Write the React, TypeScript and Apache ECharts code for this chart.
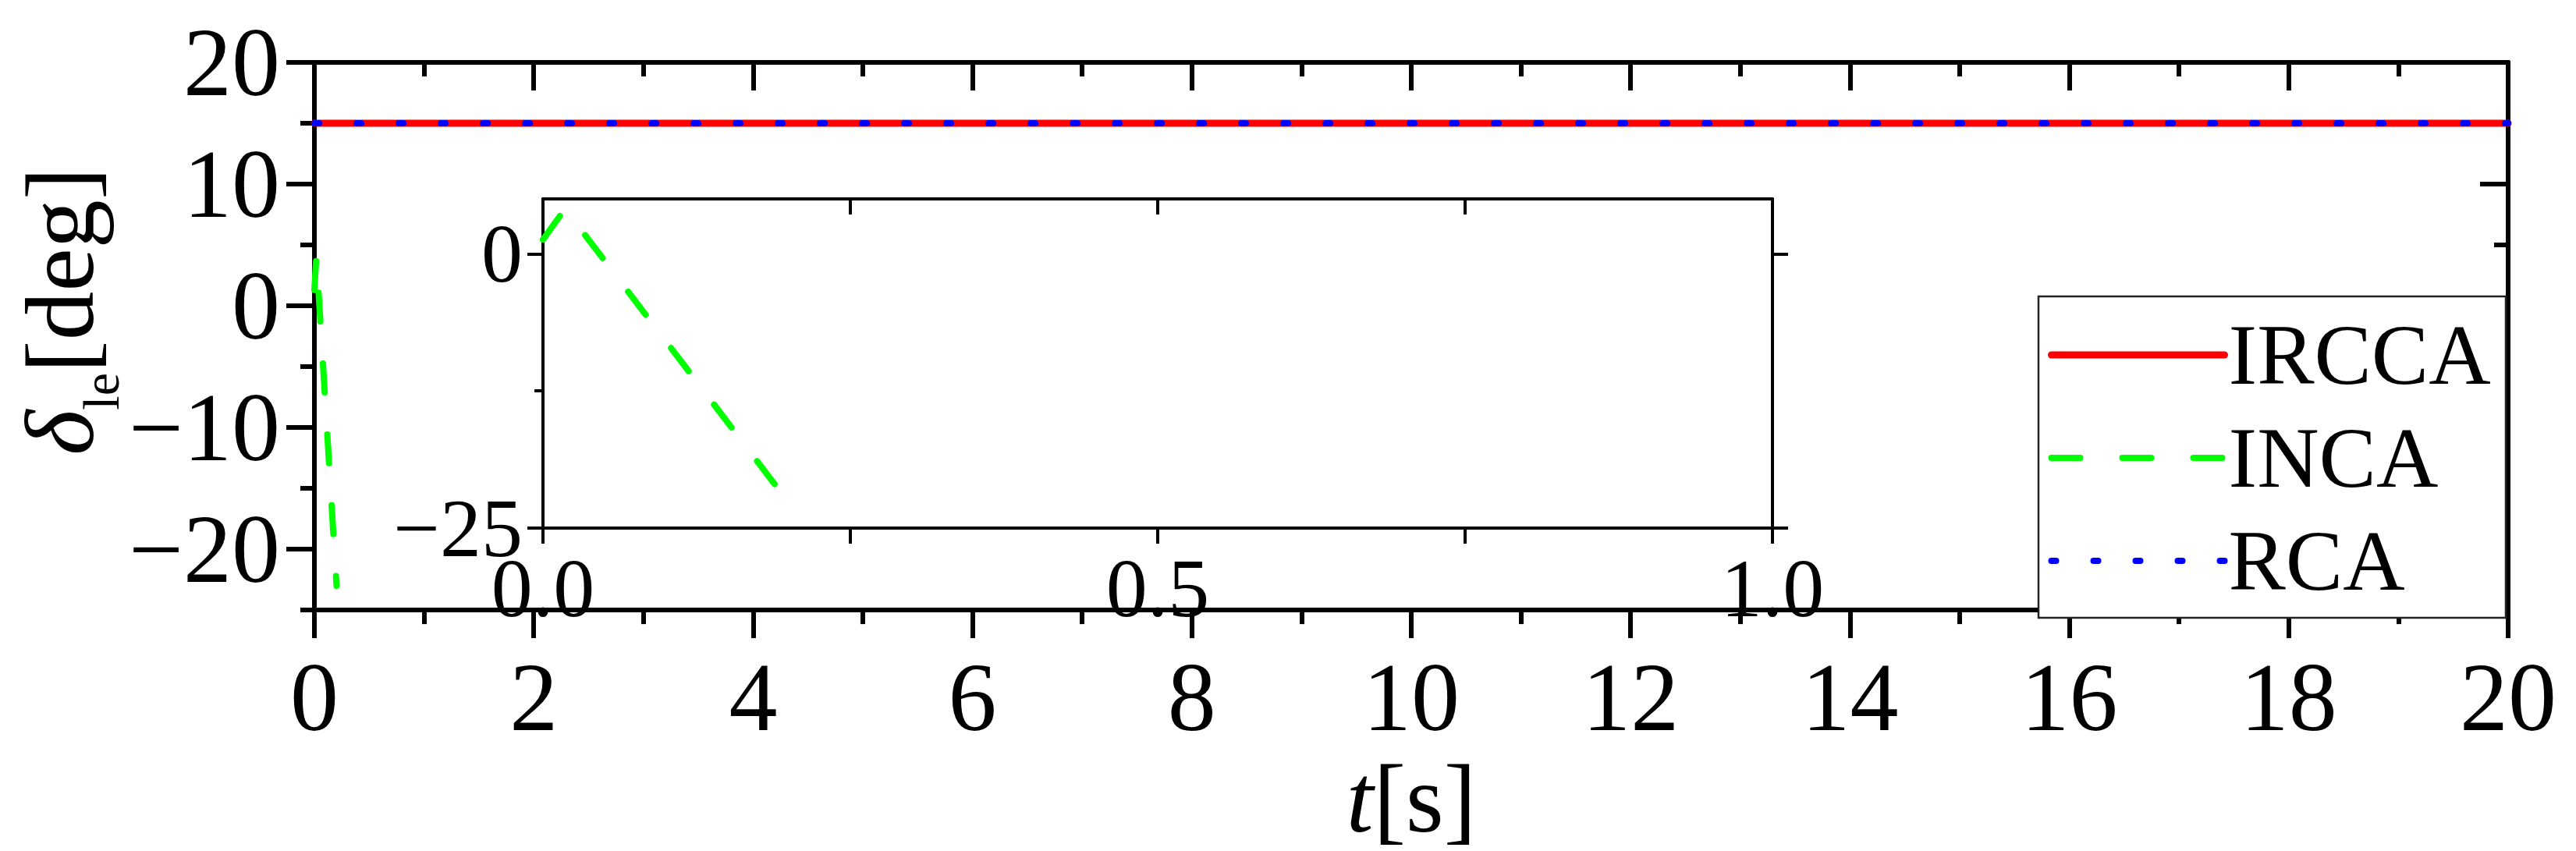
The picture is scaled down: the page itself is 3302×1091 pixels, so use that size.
import React, { useEffect, useRef } from 'react';
import * as echarts from 'echarts';

// ---- data ----
const seriesNames = ['IRCCA', 'INCA', 'RCA'];
const irccaData: number[][] = [[0, 15], [20, 15]];
const rcaData: number[][] = [[0, 15], [20, 15]];
const incaData: number[][] = [[0, 1.3], [0.018, 4.1], [0.202, -23.0]];

const mainYMajorTicks = [-20, -10, 0, 10, 20];
const mainYMinorTicks = [-25, -15, -5, 5, 15];
const insetYMajorTicks = [-25, 0];
const insetYMinorTicks = [-12.5];
const insetXLabelTicks = [0, 0.5, 1];

const FONT = '"Liberation Serif", "Times New Roman", serif';
const BLACK = '#000000';

const fmtMinus = (v: number) => (v < 0 ? '\u2212' + String(-v) : String(v));

export default function App() {
  const ref = useRef<HTMLDivElement>(null);

  useEffect(() => {
    if (!ref.current) return;
    const chart = echarts.init(ref.current, null, { renderer: 'svg' });

    const axisLine = { show: true, onZero: false, lineStyle: { color: BLACK, width: 6 } };
    const insetAxisLine = { show: true, onZero: false, lineStyle: { color: BLACK, width: 4 } };

    const option: any = {
      animation: false,
      backgroundColor: '#ffffff',
      grid: [
        { left: 403, top: 80, width: 2812, height: 716, show: false },
        { left: 696, top: 255, width: 1576, height: 422, show: false },
      ],
      xAxis: [
        {
          type: 'value', gridIndex: 0, position: 'bottom', min: 0, max: 20, interval: 2,
          axisLine,
          axisTick: { show: true, length: 36, lineStyle: { color: BLACK, width: 6 } },
          minorTick: { show: true, splitNumber: 2, length: 18, lineStyle: { color: BLACK, width: 6 } },
          axisLabel: { color: BLACK, fontSize: 124, fontFamily: FONT, margin: 50 },
          splitLine: { show: false },
          name: '{i|t}{n|[s]}',
          nameLocation: 'middle',
          nameGap: 146,
          nameTextStyle: {
            color: BLACK,
            rich: {
              i: { fontSize: 125, fontFamily: FONT, fontStyle: 'italic', color: BLACK },
              n: { fontSize: 125, fontFamily: FONT, color: BLACK },
            },
          },
        },
        {
          type: 'value', gridIndex: 0, position: 'top', min: 0, max: 20, interval: 2,
          axisLine,
          axisTick: { show: true, inside: true, length: 36, lineStyle: { color: BLACK, width: 6 } },
          minorTick: { show: true, splitNumber: 2, length: 18, lineStyle: { color: BLACK, width: 6 } },
          axisLabel: { show: false },
          splitLine: { show: false },
        },
        {
          type: 'value', gridIndex: 1, position: 'bottom', min: 0, max: 1, interval: 0.25,
          axisLine: insetAxisLine,
          axisTick: { show: true, length: 20, lineStyle: { color: BLACK, width: 4 } },
          axisLabel: {
            color: BLACK, fontSize: 106, lineHeight: 74, fontFamily: FONT, margin: 40,
            formatter: (v: number) => (insetXLabelTicks.some((t) => Math.abs(t - v) < 1e-9) ? v.toFixed(1) : ''),
          },
          splitLine: { show: false },
        },
        {
          type: 'value', gridIndex: 1, position: 'top', min: 0, max: 1, interval: 0.25,
          axisLine: insetAxisLine,
          axisTick: { show: true, inside: true, length: 20, lineStyle: { color: BLACK, width: 4 } },
          axisLabel: { show: false },
          splitLine: { show: false },
        },
      ],
      yAxis: [
        {
          type: 'value', gridIndex: 0, position: 'left', min: -25, max: 20,
          axisLine,
          axisTick: { show: true, length: 36, customValues: mainYMajorTicks, lineStyle: { color: BLACK, width: 6 } },
          axisLabel: { color: BLACK, fontSize: 124, fontFamily: FONT, margin: 44, customValues: mainYMajorTicks, formatter: fmtMinus },
          splitLine: { show: false },
        },
        {
          type: 'value', gridIndex: 0, position: 'left', min: -25, max: 20,
          axisLine,
          axisTick: { show: true, length: 18, customValues: mainYMinorTicks, lineStyle: { color: BLACK, width: 6 } },
          axisLabel: { show: false },
          splitLine: { show: false },
        },
        {
          type: 'value', gridIndex: 0, position: 'right', min: -25, max: 20,
          axisLine,
          axisTick: { show: true, inside: true, length: 36, customValues: mainYMajorTicks, lineStyle: { color: BLACK, width: 6 } },
          axisLabel: { show: false },
          splitLine: { show: false },
        },
        {
          type: 'value', gridIndex: 0, position: 'right', min: -25, max: 20,
          axisLine,
          axisTick: { show: true, inside: true, length: 18, customValues: mainYMinorTicks, lineStyle: { color: BLACK, width: 6 } },
          axisLabel: { show: false },
          splitLine: { show: false },
        },
        {
          type: 'value', gridIndex: 1, position: 'left', min: -25, max: 5,
          axisLine: insetAxisLine,
          axisTick: { show: true, length: 20, customValues: insetYMajorTicks, lineStyle: { color: BLACK, width: 4 } },
          axisLabel: { color: BLACK, fontSize: 106, lineHeight: 74, fontFamily: FONT, margin: 26, customValues: insetYMajorTicks, formatter: fmtMinus },
          splitLine: { show: false },
        },
        {
          type: 'value', gridIndex: 1, position: 'left', min: -25, max: 5,
          axisLine: insetAxisLine,
          axisTick: { show: true, length: 11, customValues: insetYMinorTicks, lineStyle: { color: BLACK, width: 4 } },
          axisLabel: { show: false },
          splitLine: { show: false },
        },
        {
          type: 'value', gridIndex: 1, position: 'right', min: -25, max: 5,
          axisLine: insetAxisLine,
          axisTick: { show: true, length: 20, customValues: insetYMajorTicks, lineStyle: { color: BLACK, width: 4 } },
          axisLabel: { show: false },
          splitLine: { show: false },
        },
      ],
      legend: {
        data: seriesNames,
        orient: 'vertical',
        left: 2625,
        top: 400,
        padding: 0,
        itemWidth: 222,
        itemHeight: 20,
        itemGap: 22,
        itemTextGap: 24,
        selectedMode: false,
        z: 10,
        itemStyle: { color: 'rgba(0,0,0,0)', borderColor: 'rgba(0,0,0,0)', borderWidth: 0 },
        lineStyle: { width: 'inherit' },
        textStyle: { color: BLACK, fontSize: 110, lineHeight: 110, fontFamily: FONT },
      },
      graphic: [
        {
          type: 'rect',
          z: 5,
          shape: { x: 2613, y: 380, width: 599, height: 412 },
          style: { fill: '#ffffff', stroke: '#222222', lineWidth: 2.5 },
        },
        {
          type: 'text',
          x: 77,
          y: 399,
          rotation: Math.PI / 2,
          style: {
            text: '{d|\u03b4}{s|le}{n|[deg]}',
            align: 'center',
            verticalAlign: 'middle',
            fill: BLACK,
            rich: {
              d: { fontSize: 125, lineHeight: 170, fontFamily: FONT, fontStyle: 'italic', fill: BLACK },
              s: { fontSize: 66, lineHeight: 66, fontFamily: FONT, verticalAlign: 'bottom', fill: BLACK },
              n: { fontSize: 125, lineHeight: 170, fontFamily: FONT, fill: BLACK },
            },
          },
        },
      ],
      series: [
        {
          name: 'IRCCA', type: 'line', xAxisIndex: 0, yAxisIndex: 0, data: irccaData,
          symbol: 'none', z: 2, color: '#ff0000',
          lineStyle: { color: '#ff0000', width: 9, type: 'solid', cap: 'round' },
        },
        {
          name: 'INCA', type: 'line', xAxisIndex: 0, yAxisIndex: 0, data: incaData,
          symbol: 'none', z: 3, color: '#00ff00',
          lineStyle: { color: '#00ff00', width: 8, type: [37, 54], cap: 'round' },
        },
        {
          name: 'RCA', type: 'line', xAxisIndex: 0, yAxisIndex: 0, data: rcaData,
          symbol: 'none', z: 4, color: '#0000ff',
          lineStyle: { color: '#0000ff', width: 8, type: [6, 48], cap: 'round' },
        },
        {
          name: 'INCA', type: 'line', xAxisIndex: 2, yAxisIndex: 4, data: incaData,
          symbol: 'none', z: 3, color: '#00ff00',
          lineStyle: { color: '#00ff00', width: 8, type: [37, 54], cap: 'round' },
        },
      ],
    };

    chart.setOption(option);
    return () => chart.dispose();
  }, []);

  return (
    <div
      ref={ref}
      style={{ position: 'absolute', left: 0, top: 0, width: 3302, height: 1091, background: '#fff' }}
    />
  );
}
